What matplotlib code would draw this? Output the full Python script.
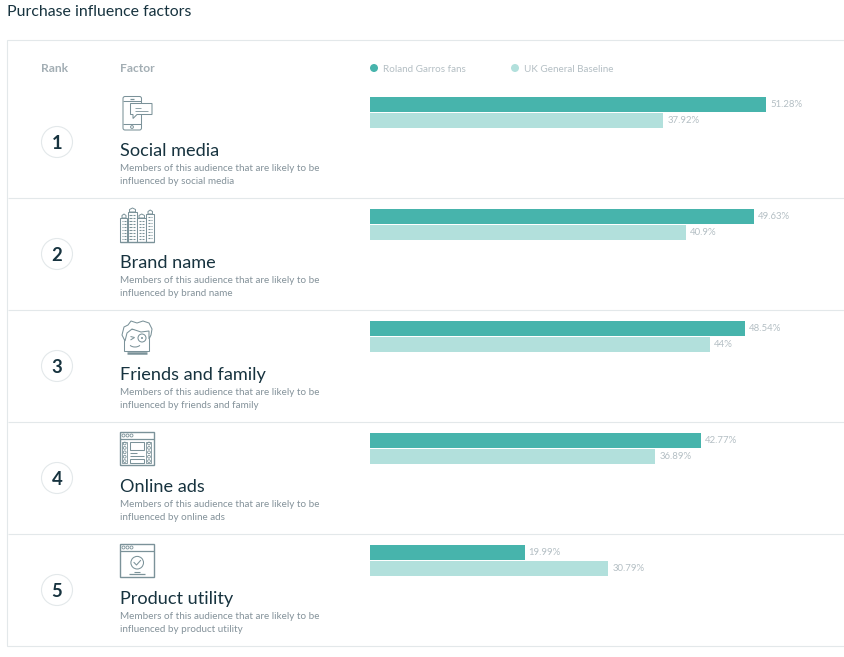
import matplotlib
matplotlib.use("Agg")
import matplotlib.pyplot as plt
from matplotlib.patches import Circle, Rectangle, Polygon, Arc, FancyBboxPatch

plt.rcParams['font.family'] = ['Lato', 'DejaVu Sans']

title = "Purchase influence factors"
ranks = ["1", "2", "3", "4", "5"]
factors = ["Social media", "Brand name", "Friends and family", "Online ads", "Product utility"]
desc_lower = ["social media", "brand name", "friends and family", "online ads", "product utility"]
fans = [51.28, 49.63, 48.54, 42.77, 19.99]
baseline = [37.92, 40.9, 44, 36.89, 30.79]
fan_labels = ["51.28%", "49.63%", "48.54%", "42.77%", "19.99%"]
base_labels = ["37.92%", "40.9%", "44%", "36.89%", "30.79%"]
series_names = ["Roland Garros fans", "UK General Baseline"]

C_FAN = "#47b4ac"
C_BASE = "#b2e0dc"
C_LINE = "#e3e8ea"
C_DARK = "#17333f"
C_GREY = "#a3aeb4"
C_DESC = "#84929a"
C_ICON = "#7b9299"

W, H = 845, 657
fig = plt.figure(figsize=(W / 100, H / 100), dpi=100, facecolor="#ffffff")
bg = fig.add_axes([0, 0, 1, 1])
bg.set_xlim(0, W)
bg.set_ylim(H, 0)
bg.axis("off")


def px(s):
    return s * 0.72


bg.text(7, 16.5, title, fontsize=px(15.9), color=C_DARK, va="baseline", ha="left")
bg.add_patch(Rectangle((7.5, 40), W, 606, fc="white", ec=C_LINE, lw=0.8))
bg.text(41, 72.5, "Rank", fontsize=px(12), color=C_GREY, fontweight="bold", va="baseline")
bg.text(120, 72.5, "Factor", fontsize=px(12), color=C_GREY, fontweight="bold", va="baseline")

for cx, tx, c, name in zip((374, 515), (383, 524), (C_FAN, C_BASE), series_names):
    bg.add_patch(Circle((cx, 68), 4, fc=c, ec="none"))
    bg.text(tx, 71.5, name, fontsize=px(9.9), color="#b4bfc4", va="baseline")

ROW = 112
for i in range(4):
    y = 198 + i * ROW
    bg.plot([8, W], [y, y], color=C_LINE, lw=0.8, solid_capstyle="butt")

for i, (r, f, d) in enumerate(zip(ranks, factors, desc_lower)):
    o = i * ROW
    bg.add_patch(Circle((57, 142 + o), 15.5, fc="white", ec=C_LINE, lw=0.8))
    bg.text(57, 143.6 + o, r, fontsize=px(18.5), color=C_DARK, fontweight="bold", ha="center", va="center")
    bg.text(120, 156 + o, f, fontsize=px(18.2), color=C_DARK, va="baseline")
    bg.text(120, 171.2 + o, "Members of this audience that are likely to be", fontsize=px(9.9), color=C_DESC, va="baseline")
    bg.text(120, 184.2 + o, "influenced by " + d, fontsize=px(9.9), color=C_DESC, va="baseline")

LW = 0.75


def rect(x, y, w, h, lw=LW, fc="none"):
    bg.add_patch(Rectangle((x, y), w, h, fc=fc, ec=C_ICON, lw=lw))


def seg(x0, y0, x1, y1, lw=LW):
    bg.plot([x0, x1], [y0, y1], color=C_ICON, lw=lw, solid_capstyle="butt")


def icon_phone(o):
    bg.add_patch(FancyBboxPatch((123, 96.5 + o), 18.5, 33.5, boxstyle="round,pad=0,rounding_size=2", fc="white", ec=C_ICON, lw=LW))
    seg(123, 101 + o, 141.5, 101 + o)
    seg(123, 124 + o, 141.5, 124 + o)
    seg(130, 99 + o, 134, 99 + o, 0.9)
    bg.add_patch(Circle((132, 127 + o), 1.4, fc="none", ec=C_ICON, lw=0.7))
    bg.add_patch(Polygon([(130.5, 103.5 + o), (152, 103.5 + o), (152, 114.5 + o), (137, 114.5 + o), (133, 118.5 + o),
                          (133, 114.5 + o), (130.5, 114.5 + o)], fc="white", ec=C_ICON, lw=LW))
    seg(135, 107.5 + o, 141, 107.5 + o, 0.6)
    seg(135, 110.5 + o, 148, 110.5 + o, 0.6)


def icon_city(o):
    for x, top, w in ((120.5, 218, 7), (128, 212, 9), (137.5, 218, 8.5), (146.5, 214, 7.5)):
        bg.add_patch(Polygon([(x + 1.5, top + o), (x + 1.5, top - 2.5 + o), (x + w / 2, top - 4 + o),
                              (x + w - 1.5, top - 2.5 + o), (x + w - 1.5, top + o)], fc="white", ec=C_ICON, lw=0.7))
        rect(x, top + o, w, 242 - top, fc="white")
        for yy in range(top + 3, 240, 3):
            for xx in (x + 1.5, x + w / 2 + 0.5):
                seg(xx, yy + o, xx + w / 2 - 2, yy + o, 0.8)
    seg(120, 242 + o, 154.5, 242 + o, 1.0)


def icon_face(o):
    rect(124.5, 329 + o, 25, 22, fc="white")
    seg(127, 353 + o, 147, 353 + o, 1.8)
    bg.add_patch(Polygon([(125, 341 + o), (122, 335 + o), (124, 327 + o), (128, 325 + o), (131, 321 + o), (137, 323 + o),
                          (143, 321 + o), (149, 323 + o), (152, 329 + o), (151, 335 + o), (149, 339 + o), (149, 331 + o),
                          (141, 332 + o), (132, 329 + o), (127, 333 + o)],
                         fc="white", ec=C_ICON, lw=LW))
    bg.add_patch(Circle((142, 338 + o), 4, fc="none", ec=C_ICON, lw=LW))
    bg.add_patch(Circle((142, 338 + o), 1, fc=C_ICON, ec="none"))
    seg(130.5, 336.5 + o, 134.5, 337.5 + o)
    seg(130.5, 340 + o, 134.5, 337.5 + o)
    bg.add_patch(Arc((135, 343 + o), 12, 8, theta1=25, theta2=155, ec=C_ICON, lw=LW))


def window(o):
    rect(120.2, 432 + o, 34, 33, 1.0)
    seg(120.2, 439 + o, 154.2, 439 + o, 0.9)
    for k in range(3):
        bg.add_patch(Circle((123.5 + k * 4, 435.5 + o), 1.5, fc="none", ec=C_ICON, lw=0.6))


def icon_ads(o):
    window(o)
    for x in (122.2, 146.5):
        rect(x, 441.5 + o, 5, 21.5, 0.6)
        for k in range(5):
            bg.add_patch(Circle((x + 2.5, 443.5 + k * 4.4 + o), 1.4, fc="none", ec=C_ICON, lw=0.6))
    rect(130.5, 442 + o, 13.5, 8)
    seg(130.5, 453 + o, 137.5, 453 + o)
    seg(130.5, 456 + o, 144.5, 456 + o)
    rect(130.5, 459 + o, 14, 4)


def icon_product(o):
    window(o)
    bg.add_patch(Circle((137.2, 450.7 + o), 6.3, fc="none", ec=C_ICON, lw=LW))
    bg.plot([134, 136.5, 140.5], [450.5 + o, 453 + o, 448.5 + o], color=C_ICON, lw=LW)
    seg(134.5, 459.7 + o, 140, 459.7 + o, 0.8)
    seg(129.5, 461.7 + o, 145, 461.7 + o, 0.9)


icon_phone(0)
icon_city(0)
icon_face(0)
icon_ads(0)
icon_product(ROW)

# Bar axes: x in percent (7.73 px per %), y in row units, aligned to the rows
ax = fig.add_axes([370 / W, 0, (W - 370) / W, 1])
ax.patch.set_alpha(0)
ax.set_xlim(0, (W - 370) / 7.73)
ax.set_ylim((H - 112.5) / ROW, -112.5 / ROW)
ax.axis("off")
rows = list(range(len(factors)))
bar_h = 15 / ROW
off = 8 / ROW
ax.barh([r - off for r in rows], fans, height=bar_h, color=C_FAN)
ax.barh([r + off for r in rows], baseline, height=bar_h, color=C_BASE)
for r, a, b, la, lb in zip(rows, fans, baseline, fan_labels, base_labels):
    ax.annotate(la, (a, r - off), xytext=(3.0, 0), textcoords="offset points", fontsize=px(9.7), color="#b4bfc4", va="center")
    ax.annotate(lb, (b, r + off), xytext=(3.0, 0), textcoords="offset points", fontsize=px(9.7), color="#b4bfc4", va="center")

fig.savefig("out.png", dpi=100, facecolor=fig.get_facecolor())
